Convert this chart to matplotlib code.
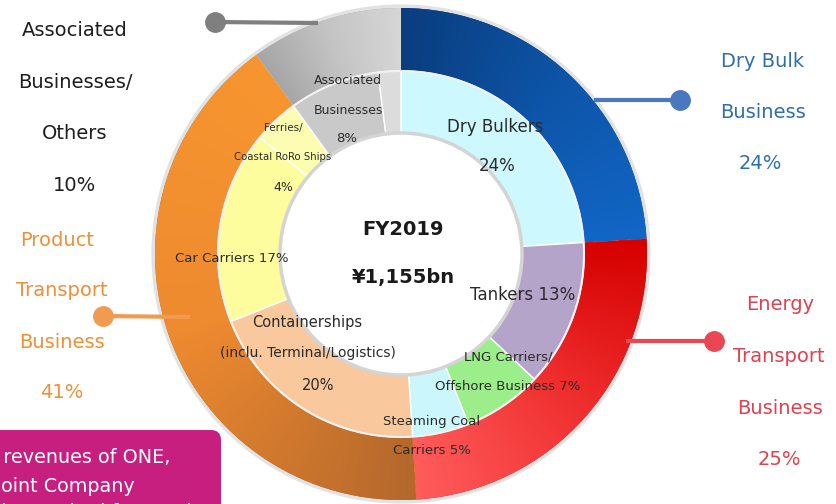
import numpy as np
import matplotlib
matplotlib.use('Agg')
import matplotlib.pyplot as plt
from matplotlib.colors import LinearSegmentedColormap
from matplotlib.patches import Circle, FancyBboxPatch

# FY2019 revenue breakdown (%)
outer_names = ['Dry Bulk Business', 'Energy Transport Business',
               'Product Transport Business', 'Associated Businesses/Others']
outer_vals = [24, 25, 41, 10]
inner_names = ['Dry Bulkers', 'Tankers', 'LNG Carriers/Offshore Business',
               'Steaming Coal Carriers', 'Containerships', 'Car Carriers',
               'Ferries/Coastal RoRo Ships', 'Associated Businesses', 'Others']
inner_vals = [24, 13, 7, 5, 20, 17, 4, 8, 2]

# colour stops run clockwise through each outer segment
outer_grads = [['#0a3d7e', '#0d55a8', '#1266c6'],
               ['#d60000', '#f03030', '#ff5c5c'],
               ['#b4682c', '#ee8a30', '#f7962f'],
               ['#a6a6a6', '#c4c4c4', '#d6d6d6']]
inner_colors = ['#cdf8fd', '#b4a4c9', '#9cee8a', '#cbf6fb',
                '#f9c89c', '#fdfd9e', '#fdfdb2', '#c9c9c9', '#dcdcdc']

W_PX, H_PX = 837, 504
cx, cy = 401, H_PX - 254
R_OUT, W_OUT = 246, 63
R_IN, W_IN = 183, 62

fig = plt.figure(figsize=(W_PX / 100, H_PX / 100), dpi=100)
ax = fig.add_axes([0, 0, 1, 1])


def py(y):
    # top-down pixel row -> data y
    return H_PX - y


# faint shadow round the outer ring
ax.add_patch(Circle((cx, cy), R_OUT + 1.5, fill=False, ec='#e2e2e2', lw=3, zorder=0))

outer_wedges, _ = ax.pie(outer_vals, radius=R_OUT, center=(cx, cy), startangle=90,
                         counterclock=False, colors=[g[0] for g in outer_grads],
                         wedgeprops=dict(width=W_OUT, linewidth=0))

# angular gradient inside each outer wedge
n = 700
xs = np.linspace(cx - R_OUT, cx + R_OUT, n)
ys = np.linspace(cy - R_OUT, cy + R_OUT, n)
X, Y = np.meshgrid(xs, ys)
phi = np.degrees(np.arctan2(Y - cy, X - cx))
for w, stops in zip(outer_wedges, outer_grads):
    w.set_zorder(1)
    span = w.theta2 - w.theta1
    f = np.clip(((w.theta2 - phi) % 360) / span, 0, 1)
    cmap = LinearSegmentedColormap.from_list('seg', stops)
    im = ax.imshow(f, cmap=cmap, vmin=0, vmax=1, origin='lower',
                   extent=(cx - R_OUT, cx + R_OUT, cy - R_OUT, cy + R_OUT),
                   interpolation='bilinear', zorder=2)
    im.set_clip_path(w)

inner_wedges, _ = ax.pie(inner_vals, radius=R_IN, center=(cx, cy), startangle=90,
                         counterclock=False, colors=inner_colors,
                         wedgeprops=dict(width=W_IN, edgecolor='white', linewidth=1))
for w in inner_wedges:
    w.set_zorder(3)

ax.add_patch(Circle((cx, cy), R_IN, fill=False, ec='#f2f2f2', lw=1.5, zorder=4))
ax.add_patch(Circle((cx, cy), R_IN - W_IN, fill=False, ec='#d4d4d4', lw=2.5, zorder=4))

ax.set_xlim(0, W_PX)
ax.set_ylim(0, H_PX)
ax.set_aspect('equal')
ax.axis('off')

# leader lines with end dots
leaders = [((215, 22), (318, 23), '#7f7f7f'),
           ((680, 100), (594, 100), '#4a78bf'),
           ((714, 341), (626, 341), '#ea4653'),
           ((103, 316), (190, 317), '#f19b50')]
for (x0, y0), (x1, y1), c in leaders:
    ax.plot([x0, x1], [py(y0), py(y1)], color=c, lw=3, solid_capstyle='butt', zorder=5)
    ax.plot(x0, py(y0), 'o', ms=14, color=c, zorder=6)

font = 'DejaVu Sans'


def txt(x, y, s, size, color='#222222', **kw):
    ax.text(x, py(y), s, fontsize=size, color=color, ha='center', va='center',
            family=font, zorder=7, **kw)


# segment labels outside the ring
for s, y in zip(['Associated', 'Businesses/', 'Others', '10%'], [30, 82, 133, 185]):
    txt(75, y, s, 14, '#1e1e1e')
for s, y, x in zip(['Product', 'Transport', 'Business', '41%'], [240, 291, 342, 393],
                   [57, 62, 62, 62]):
    txt(x, y, s, 14, '#ef8f38')
for s, y, x in zip(['Dry Bulk', 'Business', '24%'], [61, 112, 163], [763, 763, 760]):
    txt(x, y, s, 14, '#2f6fae')
for s, y, x in zip(['Energy', 'Transport', 'Business', '25%'], [305, 357, 408, 460],
                   [780, 779, 780, 779]):
    txt(x, y, s, 14, '#e0414f')

# centre
txt(403, 229, 'FY2019', 14, '#1a1a1a', fontweight='bold')
txt(403, 278, '¥1,155bn', 14, '#1a1a1a', fontweight='bold')

# inner ring labels
txt(495, 127, 'Dry Bulkers', 12, '#2a2a2a')
txt(497, 166, '24%', 12, '#2a2a2a')
txt(523, 295, 'Tankers 13%', 12, '#2a2a2a')
txt(508, 357, 'LNG Carriers/', 9.5, '#2a2a2a')
txt(508, 387, 'Offshore Business 7%', 9.5, '#2a2a2a')
txt(432, 422, 'Steaming Coal', 9.5, '#2a2a2a')
txt(432, 451, 'Carriers 5%', 9.5, '#2a2a2a')
txt(307, 322, 'Containerships', 10.5, '#2a2a2a')
txt(308, 353, '(inclu. Terminal/Logistics)', 10, '#2a2a2a')
txt(318, 386, '20%', 10.5, '#2a2a2a')
txt(232, 258, 'Car Carriers 17%', 9.5, '#2a2a2a')
txt(283, 128, 'Ferries/', 7.5, '#2a2a2a')
txt(283, 157, 'Coastal RoRo Ships', 7.3, '#2a2a2a')
txt(283, 187, '4%', 9, '#2a2a2a')
txt(348, 80, 'Associated', 9, '#2a2a2a')
txt(348, 110, 'Businesses', 9, '#2a2a2a')
txt(347, 138, '8%', 9.5, '#2a2a2a')

# note box, partly off the lower-left edge
box = FancyBboxPatch((-30, py(520)), 251, 90, boxstyle='round,pad=0,rounding_size=10',
                     fc='#c71f7f', ec='none', zorder=6)
ax.add_patch(box)
for s, x, y in [('Including revenues of ONE,', 170, 458),
                ('a joint Company', 135, 487),
                ('(equity method for MOL)', 194, 513)]:
    ax.text(x, py(y), s, fontsize=13.8, color='white', ha='right', va='center',
            family=font, zorder=7)

fig.savefig('out.png', dpi=100)
